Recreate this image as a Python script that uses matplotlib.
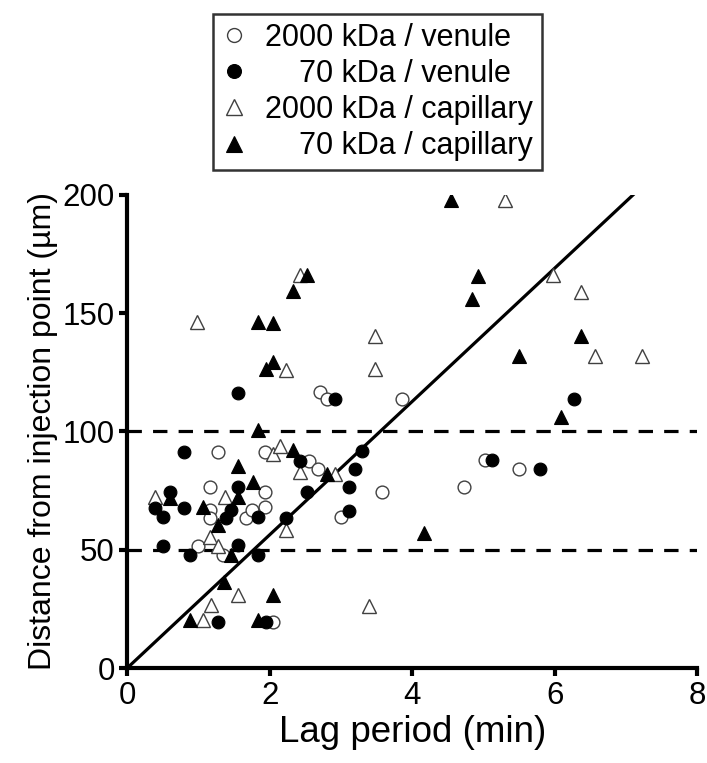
import numpy as np
import matplotlib
matplotlib.use('Agg')
import matplotlib.pyplot as plt

plt.rcParams['font.family'] = ['Liberation Sans', 'DejaVu Sans']

# 2000 kDa / venule (open circles)
venule_2000_x = [0.99, 1.16, 1.16, 1.16, 1.27, 1.35, 1.66, 1.75, 1.94, 1.94, 1.94, 2.05,
                 2.55, 2.68, 2.71, 2.81, 3.00, 3.58, 3.86, 4.73, 5.02, 5.50]
venule_2000_y = [51.6, 76.6, 66.8, 63.3, 91.2, 47.8, 63.3, 66.8, 91.5, 74.6, 68.2, 19.6,
                 87.7, 84.0, 116.6, 113.6, 64.0, 74.3, 113.6, 76.4, 88.0, 84.1]

# 70 kDa / venule (filled circles)
venule_70_x = [0.39, 0.50, 0.50, 0.60, 0.79, 0.79, 0.88, 1.27, 1.38, 1.46, 1.56, 1.56, 1.56,
               1.84, 1.84, 1.95, 2.23, 2.43, 2.52, 2.91, 3.11, 3.11, 3.20, 3.29, 5.12, 5.80, 6.27]
venule_70_y = [67.5, 64.0, 51.6, 74.6, 91.2, 67.5, 47.8, 19.6, 63.3, 66.8, 116.4, 76.6, 52.0,
               63.7, 47.8, 19.6, 63.3, 87.7, 74.6, 113.6, 76.4, 66.5, 84.1, 91.8, 88.0, 84.1, 113.6]

# 2000 kDa / capillary (open triangles)
cap_2000_x = [0.39, 0.98, 1.07, 1.16, 1.17, 1.27, 1.37, 1.56, 2.04, 2.15, 2.23, 2.23, 2.42,
              2.42, 2.92, 3.39, 3.48, 3.48, 5.31, 5.98, 6.37, 6.57, 7.23]
cap_2000_y = [72.1, 146.4, 20.3, 55.5, 26.6, 51.6, 72.4, 30.9, 90.5, 93.9, 58.4, 126.0, 83.0,
              166.0, 81.9, 26.3, 140.4, 126.3, 198.0, 166.0, 159.0, 132.0, 132.0]

# 70 kDa / capillary (filled triangles)
cap_70_x = [0.60, 0.88, 1.07, 1.28, 1.36, 1.46, 1.56, 1.56, 1.76, 1.84, 1.84, 1.84, 1.95, 2.04,
            2.04, 2.04, 2.33, 2.33, 2.53, 2.81, 4.16, 4.54, 4.84, 4.93, 5.50, 6.09, 6.37]
cap_70_y = [71.7, 20.3, 68.2, 60.5, 36.5, 47.8, 85.4, 72.4, 78.8, 100.6, 146.4, 20.3, 126.3, 129.5,
            145.7, 30.9, 92.2, 159.4, 166.0, 81.9, 57.0, 198.0, 155.9, 165.9, 132.0, 106.0, 140.4]

# reference line and thresholds
line_x = [0, 7.1]
line_y = [0, 200]
thresholds = [50, 100]

fig = plt.figure(figsize=(7.07, 7.63), dpi=100)
ax = fig.add_axes([0.18, 0.1245, 0.806, 0.62])

ax.plot(line_x, line_y, color='black', lw=2.3, zorder=1)
for t in thresholds:
    ax.plot([0, 8], [t, t], color='black', lw=2.3, dashes=(4.5, 3.5), zorder=1)

open_kw = dict(linestyle='none', markerfacecolor='white', markeredgecolor='0.25', markeredgewidth=1.0)
fill_kw = dict(linestyle='none', markerfacecolor='black', markeredgecolor='black', markeredgewidth=0.8)

h1, = ax.plot(venule_2000_x, venule_2000_y, 'o', ms=9.2, label='2000 kDa / venule', zorder=3, **open_kw)
h2, = ax.plot(venule_70_x, venule_70_y, 'o', ms=9.2, label='    70 kDa / venule', zorder=4, **fill_kw)
h3, = ax.plot(cap_2000_x, cap_2000_y, '^', ms=10.5, label='2000 kDa / capillary', zorder=3, **open_kw)
h4, = ax.plot(cap_70_x, cap_70_y, '^', ms=10.5, label='    70 kDa / capillary', zorder=4, **fill_kw)

ax.set_xlim(0, 8)
ax.set_ylim(0, 200)
ax.set_xticks([0, 2, 4, 6, 8])
ax.set_yticks([0, 50, 100, 150, 200])
for s in ['top', 'right']:
    ax.spines[s].set_visible(False)
for s in ['left', 'bottom']:
    ax.spines[s].set_linewidth(3)
ax.tick_params(width=3, length=6, labelsize=22.5, pad=3)

ax.set_xlabel('Lag period (min)', fontsize=26.5, labelpad=3)
ax.set_ylabel('Distance from injection point (\u00b5m)', fontsize=23, labelpad=3)

leg = fig.legend(handles=[h1, h2, h3, h4], loc='upper left', bbox_to_anchor=(0.301, 0.982),
                 fontsize=22, frameon=True, fancybox=False, edgecolor='black',
                 handlelength=0.8, handletextpad=0.6, borderpad=0.3, labelspacing=0.2,
                 borderaxespad=0)
leg.get_frame().set_linewidth(1.8)
leg.legend_handles[0].set_markersize(10)
leg.legend_handles[1].set_markersize(10)
leg.legend_handles[2].set_markersize(11)
leg.legend_handles[3].set_markersize(11)

plt.savefig('out.png', dpi=100)
